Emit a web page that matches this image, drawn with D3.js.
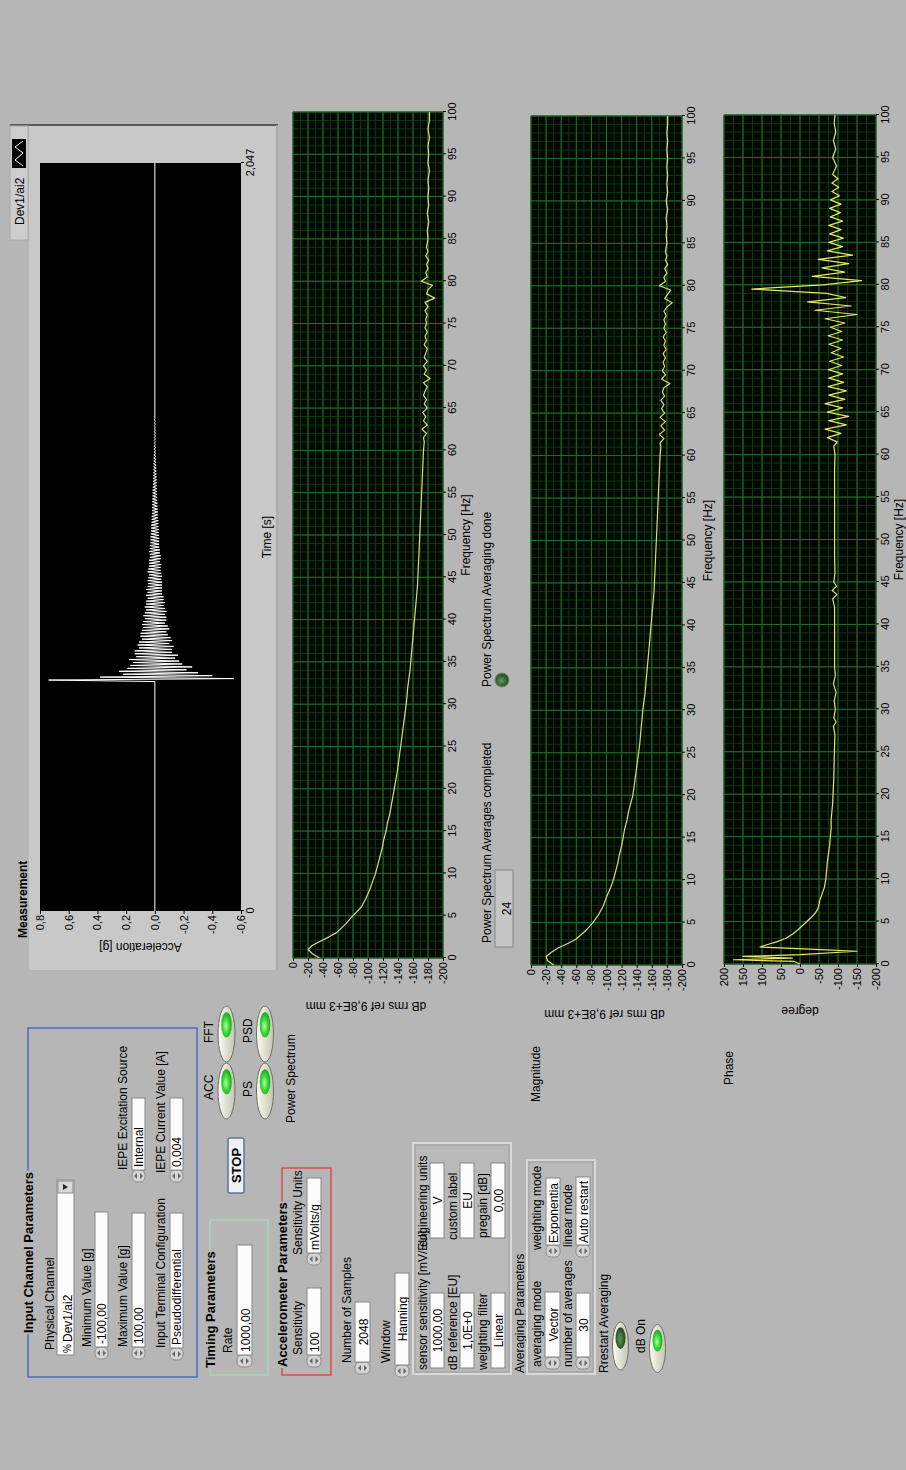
<!DOCTYPE html>
<html lang="en">
<head>
  <meta charset="UTF-8">
  <title>Accelerometer power spectrum panel</title>
  <script src="https://d3js.org/d3.v7.min.js"></script>
</head>

<style>
  body {
    margin: 0;
    padding: 0;
    background: #b6b6b6;
  }

  svg {
    display: block;
    font-family: "Liberation Sans", Arial, sans-serif;
  }

  .tick text {
    font-family: "Liberation Sans", Arial, sans-serif;
    font-size: 11px;
  }
</style>

<body>
<div id="panel"></div>

<script>
  /** ---- data ---- */

  // acceleration waveform: zero until the hit, then samples every waveDt seconds
  var timeTicks = [0, 2.047];
  var accTicks = [0.8, 0.6, 0.4, 0.2, 0, -0.2, -0.4, -0.6];
  var waveT0 = 0.632;
  var waveDt = 0.004;
  var waveY = [
    0.74, -0.55, 0.38, -0.40, 0.22, -0.30, 0.25, -0.22, 0.19, -0.26,
    0.17, -0.19, 0.15, -0.17, 0.18, -0.14, 0.13, -0.16, 0.14, -0.12,
    0.14, -0.12, 0.11, -0.13, 0.12, -0.10, 0.11, -0.12, 0.09, -0.11,
    0.10, -0.09, 0.10, -0.08, 0.09, -0.10, 0.08, -0.09, 0.09, -0.07,
    0.08, -0.08, 0.07, -0.08, 0.08, -0.07, 0.07, -0.08, 0.06, -0.07,
    0.07, -0.06, 0.06, -0.07, 0.06, -0.06, 0.05, -0.06, 0.06, -0.05,
    0.05, -0.05, 0.06, -0.05, 0.05, -0.05, 0.045, -0.05, 0.05, -0.045,
    0.045, -0.05, 0.04, -0.045, 0.05, -0.04, 0.045, -0.04, 0.04, -0.045,
    0.04, -0.035, 0.04, -0.04, 0.035, -0.04, 0.035, -0.035, 0.04, -0.035,
    0.035, -0.03, 0.035, -0.03, 0.03, -0.03, 0.03, -0.03, 0.03, -0.028,
    0.028, -0.026, 0.026, -0.028, 0.025, -0.025, 0.025, -0.024, 0.023, -0.024,
    0.022, -0.021, 0.022, -0.02, 0.02, -0.021, 0.019, -0.019, 0.02, -0.018,
    0.018, -0.018, 0.017, -0.016, 0.017, -0.016, 0.016, -0.015, 0.015, -0.015,
    0.015, -0.014, 0.014, -0.013, 0.013, -0.013, 0.012, -0.012, 0.012, -0.011,
    0.011, -0.011, 0.01, -0.01, 0.01, -0.01, 0.009, -0.009, 0.009, -0.008,
    0.008, -0.008, 0.008, -0.007, 0.007, -0.007, 0.006, -0.006, 0.006, -0.006,
    0.005, -0.005, 0.005, -0.005, 0.005, -0.004, 0.004, -0.004, 0.004, -0.004,
    0.004, -0.003, 0.003, -0.003, 0.003, -0.003, 0.002, -0.002, 0.002, 0
  ];

  var freqTicks = d3.range(0, 101, 5);
  var dbTicks = [0, -20, -40, -60, -80, -100, -120, -140, -160, -180, -200];
  var phaseTicks = [200, 150, 100, 50, 0, -50, -100, -150, -200];

  // power spectrum [Hz, dB]
  var psPoints = [
    [0, -35], [0.5, -26], [1, -20], [1.5, -26], [2, -37], [2.5, -48], [3, -58], [4, -70], [5, -80],
    [6, -91], [7, -97], [8, -102], [9, -106], [10, -110], [11, -113], [12, -116], [13, -119], [14, -121],
    [15, -124], [16, -126], [17, -129], [18, -131], [19, -133], [20, -135], [22, -139], [24, -142],
    [26, -145], [28, -148], [30, -151], [32, -153], [34, -156], [36, -158], [38, -160], [40, -162],
    [42, -164], [44, -166], [46, -167], [48, -168], [50, -169], [52, -170], [54, -171], [56, -172],
    [58, -173], [60, -174], [61, -175], [61.5, -174], [62, -178], [62.5, -172], [63, -179], [63.5, -174],
    [64, -177], [64.5, -173], [65, -179], [65.5, -175], [66, -178], [66.5, -174], [67, -176], [67.5, -179],
    [68, -174], [68.5, -183], [69, -175], [69.5, -178], [70, -174], [70.5, -179], [71, -175], [71.5, -177],
    [72, -179], [72.5, -175], [73, -178], [73.5, -176], [74, -179], [74.5, -176], [75, -178], [75.5, -177],
    [76, -179], [76.5, -176], [77, -180], [77.5, -176], [78, -189], [78.5, -178], [79, -180], [79.5, -186],
    [80, -171], [80.5, -179], [81, -177], [81.5, -180], [82, -178], [82.5, -181], [83, -177], [83.5, -180],
    [84, -178], [85, -180], [86, -179], [87, -181], [88, -179], [89, -181], [90, -180], [91, -181],
    [92, -180], [93, -182], [94, -180], [95, -181], [96, -180], [97, -182], [98, -180], [99, -182], [100, -182]
  ];

  // FFT magnitude [Hz, dB]
  var magPoints = [
    [0, -30], [0.5, -22], [1, -20], [1.5, -27], [2, -36], [2.5, -48], [3, -59], [4, -72], [5, -82],
    [6, -90], [7, -96], [8, -100], [9, -105], [10, -109], [11, -112], [12, -115], [13, -117], [14, -120],
    [15, -122], [16, -124], [17, -127], [18, -129], [19, -132], [20, -135], [22, -138], [24, -141],
    [26, -144], [28, -146], [30, -148], [32, -151], [34, -153], [36, -155], [38, -157], [40, -159],
    [42, -161], [44, -163], [46, -164], [48, -165], [50, -166], [52, -167], [54, -168], [56, -169],
    [58, -170], [60, -171], [61, -172], [61.5, -171], [62, -176], [62.5, -170], [63, -177], [63.5, -172],
    [64, -178], [64.5, -171], [65, -177], [65.5, -173], [66, -176], [66.5, -172], [67, -177], [67.5, -174],
    [68, -176], [68.5, -184], [69, -173], [69.5, -178], [70, -174], [70.5, -177], [71, -175], [71.5, -178],
    [72, -175], [72.5, -179], [73, -176], [73.5, -178], [74, -175], [74.5, -179], [75, -176], [75.5, -178],
    [76, -176], [76.5, -179], [77, -176], [77.5, -180], [78, -187], [78.5, -177], [79, -181], [79.5, -185],
    [80, -170], [80.5, -178], [81, -176], [81.5, -180], [82, -177], [82.5, -181], [83, -178], [83.5, -180],
    [84, -178], [85, -180], [86, -179], [87, -180], [88, -179], [89, -181], [90, -179], [91, -181],
    [92, -180], [93, -181], [94, -180], [95, -181], [96, -180], [97, -181], [98, -180], [99, -181], [100, -181]
  ];

  // FFT phase [Hz, degree]
  var phasePoints = [
    [0, 0], [0.3, 15], [0.5, 175], [0.7, 20], [0.9, 150], [1.1, 0], [1.5, -150], [1.7, -55], [2.0, 105],
    [2.3, 85], [2.6, 62], [3, 38], [3.5, 20], [4, 6], [4.5, -6], [5, -18], [5.5, -30], [6, -40], [6.5, -47],
    [7, -50], [7.5, -52], [8, -56], [8.5, -60], [9, -64], [9.5, -66], [10, -68], [11, -70], [12, -72],
    [13, -75], [14, -78], [15, -80], [16, -82], [17, -82], [18, -84], [19, -86], [20, -87], [22, -89],
    [24, -90], [26, -91], [27, -92], [28, -88], [28.5, -95], [29, -89], [30, -93], [31, -90], [32, -95],
    [33, -88], [34, -93], [35, -91], [37, -91], [40, -91], [42, -91], [43, -86], [43.5, -97], [44, -85],
    [44.5, -96], [45, -89], [46, -92], [48, -91], [50, -91], [52, -91], [55, -91], [58, -91], [60, -92],
    [61, -89], [61.5, -98], [62, -72], [62.5, -108], [63, -66], [63.5, -122], [64, -76], [64.5, -128],
    [65, -72], [65.5, -112], [66, -66], [66.5, -118], [67, -76], [67.5, -122], [68, -74], [68.5, -115],
    [69, -76], [69.5, -112], [70, -74], [70.5, -110], [71, -78], [71.5, -115], [72, -82], [72.5, -108],
    [73, -76], [73.5, -112], [74, -74], [74.5, -110], [75, -80], [75.5, -118], [76, -66], [76.5, -150],
    [77, -40], [77.5, -135], [78, -20], [78.5, -120], [79, -70], [79.5, 127], [80, -60], [80.5, -162],
    [81, -32], [81.5, -118], [82, -58], [82.5, -128], [83, -48], [83.5, -138], [84, -72], [84.5, -112],
    [85, -76], [85.5, -114], [86, -78], [86.5, -108], [87, -76], [87.5, -112], [88, -80], [88.5, -106],
    [89, -78], [89.5, -108], [90, -80], [90.5, -104], [91, -84], [91.5, -102], [92, -84], [92.5, -100],
    [93, -86], [94, -96], [95, -86], [96, -94], [97, -88], [98, -94], [99, -90], [100, -92]
  ];

  /** ---- page ---- */
  var panelBg = '#b6b6b6';
  var frameBg = '#c8c8c8';

  var svg = d3.select('#panel').append('svg')
    .attr('width', 906)
    .attr('height', 1470);

  svg.append('rect').attr('width', 906).attr('height', 1470).attr('fill', panelBg);

  var defs = svg.append('defs');
  var gOn = defs.append('radialGradient').attr('id', 'ledOn').attr('cx', '45%').attr('cy', '45%').attr('r', '60%');
  gOn.append('stop').attr('offset', '0%').attr('stop-color', '#b8ffb0');
  gOn.append('stop').attr('offset', '45%').attr('stop-color', '#3fe03a');
  gOn.append('stop').attr('offset', '100%').attr('stop-color', '#169a16');
  var gOff = defs.append('radialGradient').attr('id', 'ledOff').attr('cx', '45%').attr('cy', '45%').attr('r', '60%');
  gOff.append('stop').attr('offset', '0%').attr('stop-color', '#5f9a5a');
  gOff.append('stop').attr('offset', '100%').attr('stop-color', '#163e16');
  var gRim = defs.append('linearGradient').attr('id', 'ledRim').attr('x1', 0).attr('y1', 0).attr('x2', 0).attr('y2', 1);
  gRim.append('stop').attr('offset', '0%').attr('stop-color', '#fbfbf2');
  gRim.append('stop').attr('offset', '100%').attr('stop-color', '#c4c4b4');

  /** the whole front panel is drawn landscape and turned a quarter left */
  var g = svg.append('g').attr('transform', 'translate(0,1470) rotate(-90)');

  function label(t, u, v, o) {
    o = o || {};
    return g.append('text')
      .attr('x', u).attr('y', v)
      .attr('font-size', o.size || 12)
      .attr('font-weight', o.bold ? 'bold' : null)
      .attr('text-anchor', o.anchor || 'start')
      .attr('fill', o.fill || '#000')
      .text(t);
  }

  function groupBox(u0, u1, v0, v1, color, title, tu, tv) {
    g.append('rect').attr('x', u0).attr('y', v0).attr('width', u1 - u0).attr('height', v1 - v0)
      .attr('fill', 'none').attr('stroke', color).attr('stroke-width', 1.3);
    var t = label(title, tu, tv, { bold: true, size: 13 });
    var bb = t.node().getBBox();
    g.insert('rect', function () { return t.node(); })
      .attr('x', bb.x - 1).attr('y', bb.y).attr('width', bb.width + 2).attr('height', bb.height)
      .attr('fill', panelBg);
  }

  function clusterBox(u0, u1, v0, v1) {
    g.append('rect').attr('x', u0).attr('y', v0).attr('width', u1 - u0).attr('height', v1 - v0)
      .attr('fill', '#b9b9b9').attr('stroke', '#d9d9d9').attr('stroke-width', 2);
    g.append('rect').attr('x', u0 + 2).attr('y', v0 + 2).attr('width', u1 - u0 - 4).attr('height', v1 - v0 - 4)
      .attr('fill', 'none').attr('stroke', '#9a9a9a').attr('stroke-width', 0.8);
  }

  function arrows(u0, v0, v1) {
    var a = g.append('g');
    var vm = (v0 + v1) / 2;
    var cu = u0 - 6;
    a.append('rect').attr('x', u0 - 12).attr('y', v0).attr('width', 12).attr('height', v1 - v0)
      .attr('rx', 5).attr('fill', '#d4d4d4').attr('stroke', '#8c8c8c');
    a.append('path').attr('d', 'M' + (cu - 3) + ',' + (vm - 1.5) + 'L' + (cu + 3) + ',' + (vm - 1.5) + 'L' + cu + ',' + (vm - 4.5) + 'Z')
      .attr('fill', '#666');
    a.append('path').attr('d', 'M' + (cu - 3) + ',' + (vm + 1.5) + 'L' + (cu + 3) + ',' + (vm + 1.5) + 'L' + cu + ',' + (vm + 4.5) + 'Z')
      .attr('fill', '#666');
  }

  function field(u0, u1, v0, v1, txt, o) {
    o = o || {};
    if (o.arrows) arrows(u0, v0, v1);
    g.append('rect').attr('x', u0).attr('y', v0).attr('width', u1 - u0).attr('height', v1 - v0)
      .attr('fill', o.fill || '#fcfcfc').attr('stroke', '#858585').attr('stroke-width', 1);
    var clipId = 'c' + Math.round(u0) + '_' + Math.round(v0);
    defs.append('clipPath').attr('id', clipId)
      .append('rect').attr('x', u0).attr('y', v0).attr('width', u1 - u0).attr('height', v1 - v0);
    label(txt, o.center ? (u0 + u1) / 2 : u0 + (o.pad || 3), v1 - 2.5, { anchor: o.center ? 'middle' : 'start' })
      .attr('clip-path', 'url(#' + clipId + ')');
  }

  function led(cu, cv, rx, ry, on) {
    g.append('ellipse').attr('cx', cu).attr('cy', cv).attr('rx', rx).attr('ry', ry)
      .attr('fill', 'url(#ledRim)').attr('stroke', '#6e6e66').attr('stroke-width', 1);
    g.append('ellipse').attr('cx', cu + rx * 0.33).attr('cy', cv).attr('rx', rx * 0.45).attr('ry', ry * 0.62)
      .attr('fill', on ? 'url(#ledOn)' : 'url(#ledOff)');
  }

  /** a LabVIEW style graph: plot area, optional green grid, axes, one trace */
  function graph(o) {
    var x = d3.scaleLinear().domain(o.xDomain).range([o.u0, o.u1]);
    var y = d3.scaleLinear().domain(o.yDomain).range([o.v1, o.v0]);

    g.append('rect').attr('x', o.u0).attr('y', o.v0).attr('width', o.u1 - o.u0).attr('height', o.v1 - o.v0)
      .attr('fill', o.bg);

    if (o.grid) {
      var grid = g.append('g');
      grid.selectAll('.mx').data(o.xMinor).enter().append('line')
        .attr('x1', x).attr('x2', x).attr('y1', o.v0).attr('y2', o.v1)
        .attr('stroke', '#0d350d').attr('stroke-width', 1);
      grid.selectAll('.my').data(o.yMinor).enter().append('line')
        .attr('y1', y).attr('y2', y).attr('x1', o.u0).attr('x2', o.u1)
        .attr('stroke', '#0d350d').attr('stroke-width', 1);
      grid.selectAll('.Mx').data(o.xTicks).enter().append('line')
        .attr('x1', x).attr('x2', x).attr('y1', o.v0).attr('y2', o.v1)
        .attr('stroke', '#23702a').attr('stroke-width', 1);
      grid.selectAll('.My').data(o.yTicks).enter().append('line')
        .attr('y1', y).attr('y2', y).attr('x1', o.u0).attr('x2', o.u1)
        .attr('stroke', '#23702a').attr('stroke-width', 1);
    }

    var ax = g.append('g').attr('transform', 'translate(0,' + o.v1 + ')')
      .call(d3.axisBottom(x).tickValues(o.xTicks).tickFormat(o.xFmt).tickSize(3).tickSizeOuter(0).tickPadding(2));
    ax.select('.domain').remove();
    var ay = g.append('g').attr('transform', 'translate(' + o.u0 + ',0)')
      .call(d3.axisLeft(y).tickValues(o.yTicks).tickFormat(o.yFmt).tickSize(3).tickSizeOuter(0).tickPadding(1));
    ay.select('.domain').remove();

    var clipId = 'plot' + Math.round(o.u0) + '_' + Math.round(o.v0);
    defs.append('clipPath').attr('id', clipId)
      .append('rect').attr('x', o.u0).attr('y', o.v0).attr('width', o.u1 - o.u0).attr('height', o.v1 - o.v0);

    g.append('path').datum(o.points)
      .attr('clip-path', 'url(#' + clipId + ')')
      .attr('fill', 'none')
      .attr('stroke', o.color)
      .attr('stroke-width', o.width || 1.2)
      .attr('stroke-linejoin', 'round')
      .attr('d', d3.line().x(function (d) { return x(d[0]); }).y(function (d) { return y(d[1]); }));

    // y axis title, turned like LabVIEW does
    g.append('text')
      .attr('transform', 'translate(' + o.yTitleU + ',' + ((o.v0 + o.v1) / 2 + (o.yTitleShift || 0)) + ') rotate(-90)')
      .attr('text-anchor', 'middle').attr('font-size', 12).text(o.yTitle);
    label(o.xTitle, (o.u0 + o.u1) / 2, o.xTitleV, { anchor: 'middle' });
    return { x: x, y: y };
  }

  function intFmt(d) { return String(d); }
  function commaFmt(d) { return d.toFixed(1).replace('.', ','); }
  function timeFmt(d) { return d === 0 ? '0' : String(d).replace('.', ','); }

  /** ---- Measurement (time waveform) ---- */
  g.append('rect').attr('x', 500).attr('y', 29).attr('width', 845).attr('height', 248).attr('fill', frameBg);
  g.append('line').attr('x1', 1345).attr('x2', 1345).attr('y1', 10).attr('y2', 278).attr('stroke', '#5a5a5a').attr('stroke-width', 2);
  g.append('line').attr('x1', 500).attr('x2', 1345).attr('y1', 277).attr('y2', 277).attr('stroke', '#a4a4a4').attr('stroke-width', 1.5);
  // plot legend tab
  g.append('rect').attr('x', 1230).attr('y', 10).attr('width', 114).attr('height', 18).attr('fill', '#cdcdcd').attr('stroke', '#a9a9a9');
  g.append('rect').attr('x', 1302).attr('y', 12).attr('width', 29).attr('height', 14).attr('fill', '#000');
  g.append('path').attr('d', 'M1304,23L1310,15L1317,23L1323,15L1329,23').attr('fill', 'none').attr('stroke', '#fff').attr('stroke-width', 1);
  label('Dev1/ai2', 1245, 24);
  label('Measurement', 532, 27, { bold: true });

  // flat zero before the hit, the samples, then flat zero to the end of the record
  var wavePoints = [[0, 0], [waveT0 - waveDt, 0]];
  waveY.forEach(function (a, i) { wavePoints.push([waveT0 + i * waveDt, a]); });
  wavePoints.push([2.047, 0]);

  graph({
    u0: 559, u1: 1307, v0: 40, v1: 241, bg: '#000',
    xDomain: [0, 2.047], yDomain: [-0.6, 0.8],
    xTicks: timeTicks, yTicks: accTicks, xFmt: timeFmt, yFmt: commaFmt,
    points: wavePoints, color: '#ffffff', width: 1,
    yTitle: 'Acceleration [g]', yTitleU: 527, xTitle: 'Time [s]', xTitleV: 271
  });

  /** ---- Power spectrum ---- */
  var gridBg = '#020802';
  graph({
    u0: 512, u1: 1358, v0: 293, v1: 443, bg: gridBg, grid: true,
    xDomain: [0, 100], yDomain: [-200, 0],
    xTicks: freqTicks, yTicks: dbTicks, xMinor: d3.range(0, 101, 1), yMinor: d3.range(-200, 1, 10),
    xFmt: intFmt, yFmt: intFmt, points: psPoints, color: '#e0dc78',
    yTitle: 'dB rms ref 9,8E+3 mm', yTitleU: 468, yTitleShift: -2, xTitle: 'Frequency [Hz]', xTitleV: 470
  });

  /** ---- FFT magnitude ---- */
  graph({
    u0: 505, u1: 1354, v0: 531, v1: 682, bg: gridBg, grid: true,
    xDomain: [0, 100], yDomain: [-200, 0],
    xTicks: freqTicks, yTicks: dbTicks, xMinor: d3.range(0, 101, 1), yMinor: d3.range(-200, 1, 10),
    xFmt: intFmt, yFmt: intFmt, points: magPoints, color: '#e0dc78',
    yTitle: 'dB rms ref 9,8E+3 mm', yTitleU: 460, yTitleShift: -2, xTitle: 'Frequency [Hz]', xTitleV: 712
  });

  /** ---- FFT phase ---- */
  graph({
    u0: 506, u1: 1355, v0: 724, v1: 876, bg: gridBg, grid: true,
    xDomain: [0, 100], yDomain: [-200, 200],
    xTicks: freqTicks, yTicks: phaseTicks, xMinor: d3.range(0, 101, 1), yMinor: d3.range(-200, 201, 25),
    xFmt: intFmt, yFmt: intFmt, points: phasePoints, color: '#e8e660',
    yTitle: 'degree', yTitleU: 463, xTitle: 'Frequency [Hz]', xTitleV: 903
  });

  label('Magnitude', 368, 540);
  label('Phase', 385, 733);
  label('Power Spectrum Averages completed', 527, 491);
  field(523, 600, 495, 513, '24', { center: true, fill: '#c6c6c6' });
  label('Power Spectrum Averaging done', 783, 491);
  g.append('circle').attr('cx', 790).attr('cy', 502).attr('r', 7).attr('fill', 'url(#ledOff)').attr('stroke', '#7a8a7a');

  /** ---- Input channel parameters ---- */
  groupBox(93, 442, 28, 197, '#3f5fcf', 'Input Channel Parameters', 137, 33);
  label('Physical Channel', 120, 54);
  field(115, 290, 57, 74, 'Dev1/ai2', { pad: 13 });
  label('%', 117, 71, { size: 10 });
  g.append('rect').attr('x', 277).attr('y', 58).attr('width', 12).attr('height', 15).attr('fill', '#d8d8d8').attr('stroke', '#8a8a8a');
  g.append('path').attr('d', 'M280,63L286,63L283,68Z').attr('fill', '#222');
  label('Minimum Value [g]', 123, 91);
  field(123, 258, 95, 108, '-100,00', { arrows: true });
  label('Maximum Value [g]', 123, 127);
  field(123, 257, 132, 145, '100,00', { arrows: true });
  label('Input Terminal Configuration', 122, 165);
  field(122, 257, 170, 183, 'Pseudodifferential', { arrows: true });
  label('IEPE Excitation Source', 300, 127);
  field(300, 372, 132, 145, 'Internal', { arrows: true });
  label('IEPE Current Value [A]', 297, 165);
  field(300, 372, 170, 183, '0,004', { arrows: true });

  /** ---- stop button and LEDs ---- */
  g.append('rect').attr('x', 277).attr('y', 228).attr('width', 55).attr('height', 16).attr('rx', 2)
    .attr('fill', '#eef0f4').attr('stroke', '#5b7794').attr('stroke-width', 1.5);
  label('STOP', 304.5, 241, { bold: true, anchor: 'middle', size: 13 });

  label('FFT', 427, 213);
  label('ACC', 370, 213);
  label('PSD', 427, 252);
  label('PS', 373, 252);
  led(436, 226.5, 28, 8.5, true);
  led(379, 226.5, 28, 8.5, true);
  led(436, 265, 28, 8.5, true);
  led(379, 265, 28, 8.5, true);
  label('Power Spectrum', 347, 295);

  /** ---- timing ---- */
  groupBox(95, 250, 210, 268, '#a4dcb4', 'Timing Parameters', 102, 215);
  label('Rate', 117, 232);
  field(115, 225, 237, 252, '1000,00', { arrows: true });

  /** ---- accelerometer ---- */
  groupBox(95, 302, 282, 331, '#e03c3c', 'Accelerometer Parameters', 103, 287);
  label('Sensitivity', 115, 302);
  field(115, 182, 307, 321, '100', { arrows: true });
  label('Sensitivity Units', 215, 302);
  field(217, 292, 307, 321, 'mVolts/g', { arrows: true });

  label('Number of Samples', 107, 351);
  field(108, 168, 355, 370, '2048', { arrows: true, center: true });
  label('Window', 107, 390);
  field(105, 197, 395, 409, 'Hanning', { arrows: true, center: true });

  /** ---- sensor / scaling cluster ---- */
  clusterBox(96, 327, 413, 511);
  label('sensor sensitivity [mV/EU]', 100, 427);
  label('engineering units', 223, 427);
  field(102, 177, 430, 444, '1000,00', { center: true });
  field(232, 307, 430, 444, 'V', { center: true });
  label('dB reference [EU]', 100, 457);
  label('custom label', 230, 457);
  field(102, 177, 460, 474, '1,0E+0', { center: true });
  field(232, 307, 460, 474, 'EU', { center: true });
  label('weighting filter', 100, 487);
  label('pregain [dB]', 232, 487);
  field(102, 177, 491, 505, 'Linear', { center: true });
  field(232, 307, 491, 505, '0,00', { center: true });

  /** ---- averaging ---- */
  label('Averaging Parameters', 97, 524);
  clusterBox(96, 310, 527, 595);
  label('averaging mode', 103, 541);
  label('weighting mode', 220, 541);
  field(113, 178, 545, 560, 'Vector', { arrows: true, center: true });
  field(225, 292, 546, 560, 'Exponentia', { arrows: true, pad: 2 });
  label('number of averages', 103, 572);
  label('linear mode', 223, 572);
  field(113, 177, 576, 590, '30', { arrows: true, center: true });
  field(225, 293, 576, 590, 'Auto restart', { arrows: true, pad: 2 });

  label('Rrestart Averaging', 97, 608);
  led(124, 620.5, 24, 8, false);
  label('dB On', 117, 645);
  led(121.5, 657.5, 24, 8, true);
</script>
</body>
</html>
